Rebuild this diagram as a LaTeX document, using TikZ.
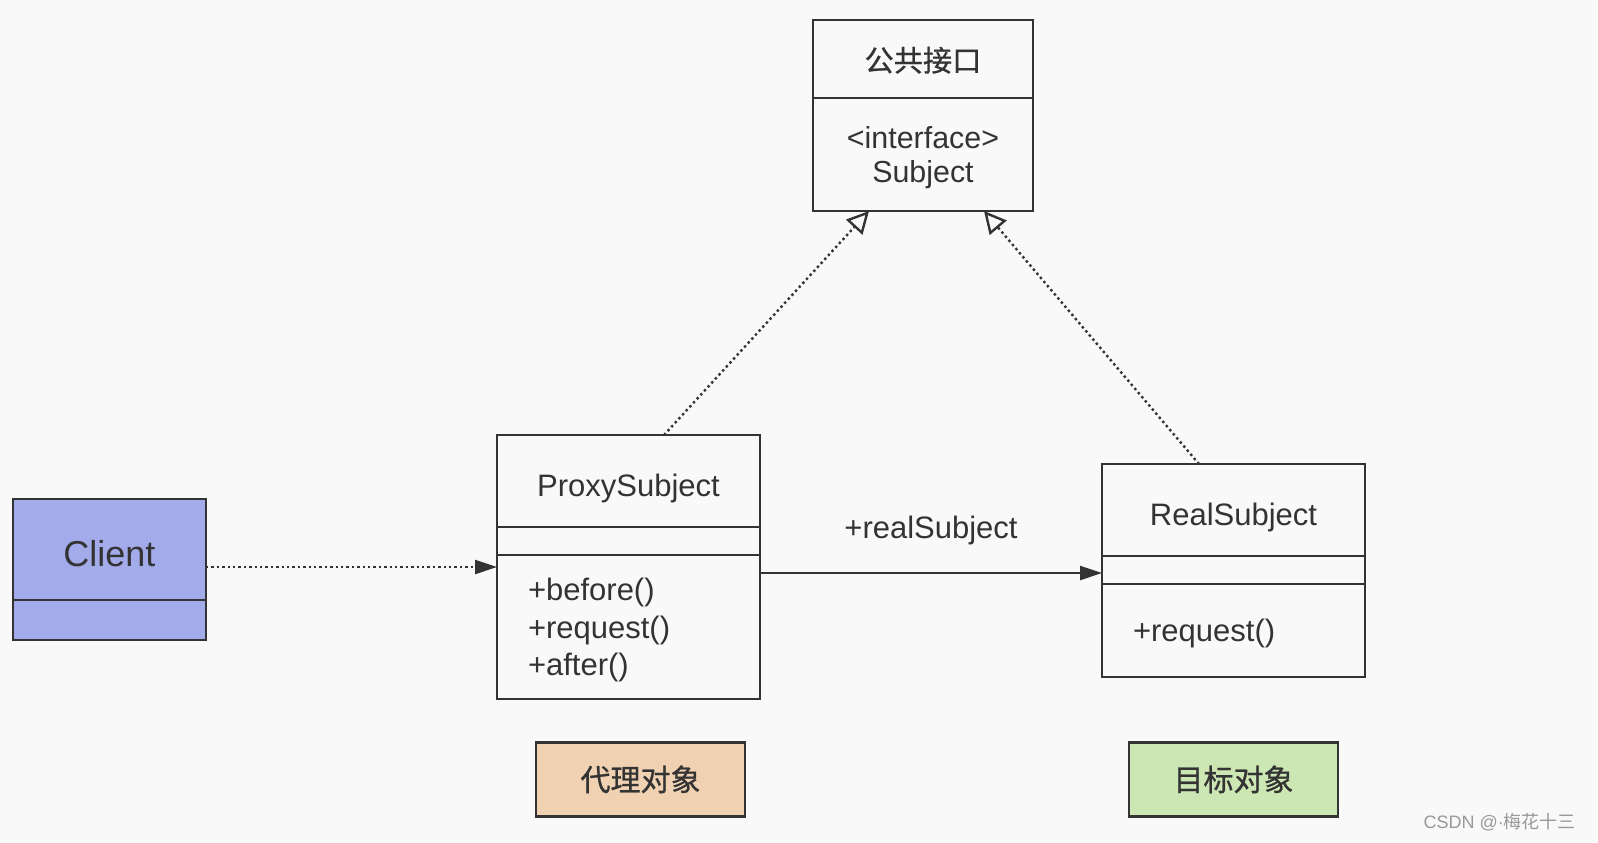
\documentclass[tikz,border=0pt]{standalone}
\usepackage{fontspec}
\setmainfont{Liberation Sans}
\newfontfamily\cjk{Noto Sans CJK SC}[FakeBold=0.8]
\newfontfamily\cjkthin{Noto Sans CJK SC}
\usepackage{tikz}
\usetikzlibrary{arrows.meta, positioning}
\definecolor{bgcol}{HTML}{F9F9F9}
\definecolor{linecol}{HTML}{333333}
\definecolor{clientcol}{HTML}{A4ABEB}
\definecolor{proxycol}{HTML}{F0D2B2}
\definecolor{realcol}{HTML}{CDE7B4}
\tikzset{
    compart/.style={rectangle, draw=linecol, line width=1.4pt, outer sep=0pt, inner sep=0pt, text=linecol, text depth=0pt, font=\fontsize{15.5}{18.75}\selectfont, align=center},
    classname/.style={compart, minimum width=131.5pt, minimum height=46pt, text height=15.2pt},
    attrs/.style={compart, minimum width=131.5pt, minimum height=14pt},
    ops/.style={compart, text width=100.5pt, inner xsep=15.5pt, align=left},
    tag/.style={rectangle, draw=linecol, line width=1.4pt, minimum width=104.5pt, minimum height=37pt, text=linecol, font=\cjk\fontsize{15}{18}\selectfont},
    realize/.style={draw=linecol, line width=1.2pt, dash pattern=on 1.2pt off 1.5pt, -{Triangle[open, length=11pt, width=11pt]}},
    depend/.style={draw=linecol, line width=1.2pt, dash pattern=on 1.2pt off 1.5pt, -{Triangle[length=11pt, width=7pt, fill=linecol]}},
    assoc/.style={draw=linecol, line width=1.2pt, -{Triangle[length=11pt, width=7pt, fill=linecol]}}
}
\begin{document}
\begin{tikzpicture}[x=0.5pt, y=-0.5pt]
        % --- Canvas ---
        \fill[bgcol] (0,0) rectangle (1598,842);
        \useasboundingbox (0,0) rectangle (1598,842);

        % --- Interface ---
        \node (ifaceName) [compart, minimum width=110pt, minimum height=39pt, anchor=north west, font=\cjk\fontsize{14.6}{17}\selectfont] at (813,20) {公共接口};
        \node (ifaceBody) [compart, minimum width=110pt, minimum height=56.5pt, below=0pt of ifaceName, font=\fontsize{15.2}{17}\selectfont] {<interface>\\Subject};

        % --- Client ---
        \node (clientName) [compart, fill=clientcol, minimum width=96.5pt, minimum height=50.5pt, text height=17.2pt, anchor=north west, font=\fontsize{18}{21}\selectfont] at (13,499) {Client};
        \node (clientAttr) [compart, fill=clientcol, minimum width=96.5pt, minimum height=20pt, below=0pt of clientName] {};

        % --- Proxy class ---
        \node (proxyName) [classname, anchor=north west] at (497,435) {ProxySubject};
        \node (proxyAttr) [attrs, below=0pt of proxyName] {};
        \node (proxyOps) [ops, minimum height=72pt, text depth=37.5pt, below=0pt of proxyAttr] {+before()\\+request()\\+after()};

        % --- Real class ---
        \node (realName) [classname, anchor=north west] at (1102,464) {RealSubject};
        \node (realAttr) [attrs, below=0pt of realName] {};
        \node (realOps) [ops, minimum height=46.5pt, below=0pt of realAttr] {+request()};

        % --- Tags ---
        \node (proxyTag) [tag, fill=proxycol, below=21pt of proxyOps, xshift=6pt] {代理对象};
        \node (realTag) [tag, fill=realcol, below=32pt of realOps] {目标对象};

        % --- Arrows ---
        \draw [realize] ([xshift=17.75pt]proxyName.north) -- ([xshift=-27pt]ifaceBody.south);
        \draw [realize] ([xshift=-17.25pt]realName.north) -- ([xshift=30.5pt]ifaceBody.south);
        \draw [depend] ([yshift=-8.75pt]clientName.east) -- ([yshift=-8.75pt]clientName.east -| proxyOps.west);
        \draw [assoc] ([yshift=-9pt]proxyOps.north east) -- ([yshift=-9pt]proxyOps.north east -| realAttr.west)
            node (roleLabel) [midway, yshift=21.5pt, text=linecol, font=\fontsize{15.5}{18}\selectfont] {+realSubject};

        % --- Watermark ---
        \node (mark) [anchor=east, text=black!40, font=\fontsize{9}{11}\selectfont] at (1583,822) {CSDN @·{\cjkthin 梅花十三}};
    \end{tikzpicture}
\end{document}
